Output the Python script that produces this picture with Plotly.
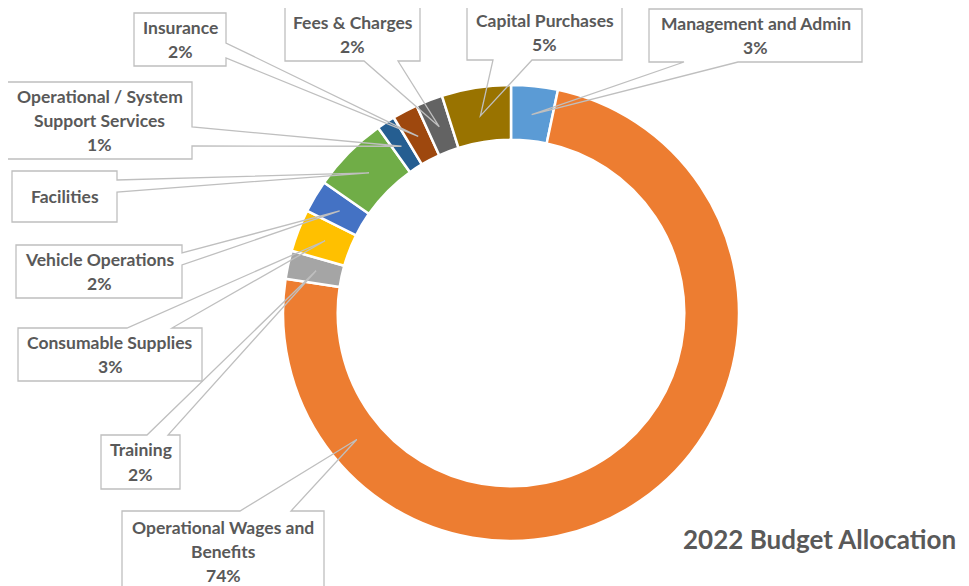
import math
import plotly.graph_objects as go

# the page puts the figure 8px in from the top-left corner
OFF = 8
W, H = 969 - OFF, 586 - OFF

categories = [
    "Management and Admin",
    "Operational Wages and Benefits",
    "Training",
    "Consumable Supplies",
    "Vehicle Operations",
    "Facilities",
    "Operational / System Support Services",
    "Insurance",
    "Fees & Charges",
    "Capital Purchases",
]
values = [3.3, 74.1, 2.0, 3.0, 2.3, 5.4, 1.3, 1.8, 1.9, 4.9]
colors = ["#5B9BD5", "#ED7D31", "#A5A5A5", "#FFC000", "#4472C4",
          "#70AD47", "#255E91", "#9E480E", "#636363", "#997300"]

# how the callout text wraps
wrapped = {
    "Operational Wages and Benefits": ["Operational Wages and", "Benefits"],
    "Operational / System Support Services": ["Operational / System", "Support Services"],
}
hide_pct = {"Facilities"}

# callout boxes in screen pixels: box, side of the tail, tail base, where along the slice the tip sits
callouts = {
    "Management and Admin": ((649, 9, 862, 62), "bottom", (684, 738), 0.5),
    "Operational Wages and Benefits": ((122, 511, 324, 592), "top", (240, 291), 0.82),
    "Training": ((101, 435, 180, 489), "top", (147, 168), 0.5),
    "Consumable Supplies": ((18, 328, 202, 381), "top", (127, 172), 0.5),
    "Vehicle Operations": ((16, 245, 182, 298), "right", (253, 265), 0.5),
    "Facilities": ((12, 171, 117, 222), "right", (180, 192), 0.5),
    "Operational / System Support Services": ((7, 82, 192, 159), "right", (127, 146), 0.5),
    "Insurance": ((134, 13, 226, 66), "right", (43, 58), 0.5),
    "Fees & Charges": ((285, 7, 420, 61), "bottom", (364, 398), 0.5),
    "Capital Purchases": ((467, 5, 622, 60), "bottom", (493, 532), 0.5),
}

# donut placement (screen pixels)
cx, cy, r_out = 511, 313, 228
hole = 0.76
tip_r = 0.875 * r_out

TEXT = "#595959"
EDGE = "#BFBFBF"
FONT = "Lato"


def px(x):
    return (x - OFF) / W


def py(y):
    return 1 - (y - OFF) / H


fig = go.Figure()
fig.add_trace(
    go.Pie(
        labels=categories,
        values=values,
        sort=False,
        direction="clockwise",
        rotation=0,
        hole=hole,
        textinfo="none",
        hoverinfo="label+percent",
        marker=dict(colors=colors, line=dict(color="white", width=2.5)),
        domain=dict(x=[px(cx - r_out), px(cx + r_out)],
                    y=[py(cy + r_out), py(cy - r_out)]),
        showlegend=False,
    )
)

total = sum(values)
shapes = []
annotations = []
start = 0.0
for name, v in zip(categories, values):
    (x0, y0, x1, y1), side, (a, b), frac = callouts[name]
    ang = math.radians((start + frac * v) / total * 360)
    start += v
    tx = cx + tip_r * math.sin(ang)
    ty = cy - tip_r * math.cos(ang)

    if side == "bottom":
        pts = [(x0, y0), (x1, y0), (x1, y1), (b, y1), (tx, ty), (a, y1), (x0, y1)]
    elif side == "top":
        pts = [(x0, y0), (a, y0), (tx, ty), (b, y0), (x1, y0), (x1, y1), (x0, y1)]
    else:
        pts = [(x0, y0), (x1, y0), (x1, a), (tx, ty), (x1, b), (x1, y1), (x0, y1)]

    shapes.append(dict(type="rect", xref="paper", yref="paper",
                       x0=px(x0), x1=px(x1), y0=py(y1), y1=py(y0),
                       fillcolor="white", line=dict(width=0), layer="above"))
    path = "M " + " L ".join(f"{px(x):.5f},{py(y):.5f}" for x, y in pts) + " Z"
    shapes.append(dict(type="path", xref="paper", yref="paper", path=path,
                       line=dict(color=EDGE, width=1.3), layer="above"))

    lines = list(wrapped.get(name, [name]))
    if name not in hide_pct:
        lines.append(f"{round(v / total * 100)}%")
    mid = (y0 + y1) / 2
    n = len(lines)
    for i, t in enumerate(lines):
        annotations.append(dict(
            x=px((x0 + x1) / 2), y=py(mid + (i - (n - 1) / 2) * 24),
            xref="paper", yref="paper", text=f"<b>{t}</b>", showarrow=False,
            xanchor="center", yanchor="middle",
            font=dict(family=FONT, size=17.5, color=TEXT),
        ))

annotations.append(dict(
    x=px(819), y=py(539), xref="paper", yref="paper",
    text="<b>2022 Budget Allocation</b>", showarrow=False,
    xanchor="center", yanchor="middle",
    font=dict(family=FONT, size=26, color=TEXT),
))

fig.update_layout(
    width=W,
    height=H,
    margin=dict(l=0, r=0, t=0, b=0),
    paper_bgcolor="white",
    plot_bgcolor="white",
    shapes=shapes,
    annotations=annotations,
)

fig.write_html("out.html")
